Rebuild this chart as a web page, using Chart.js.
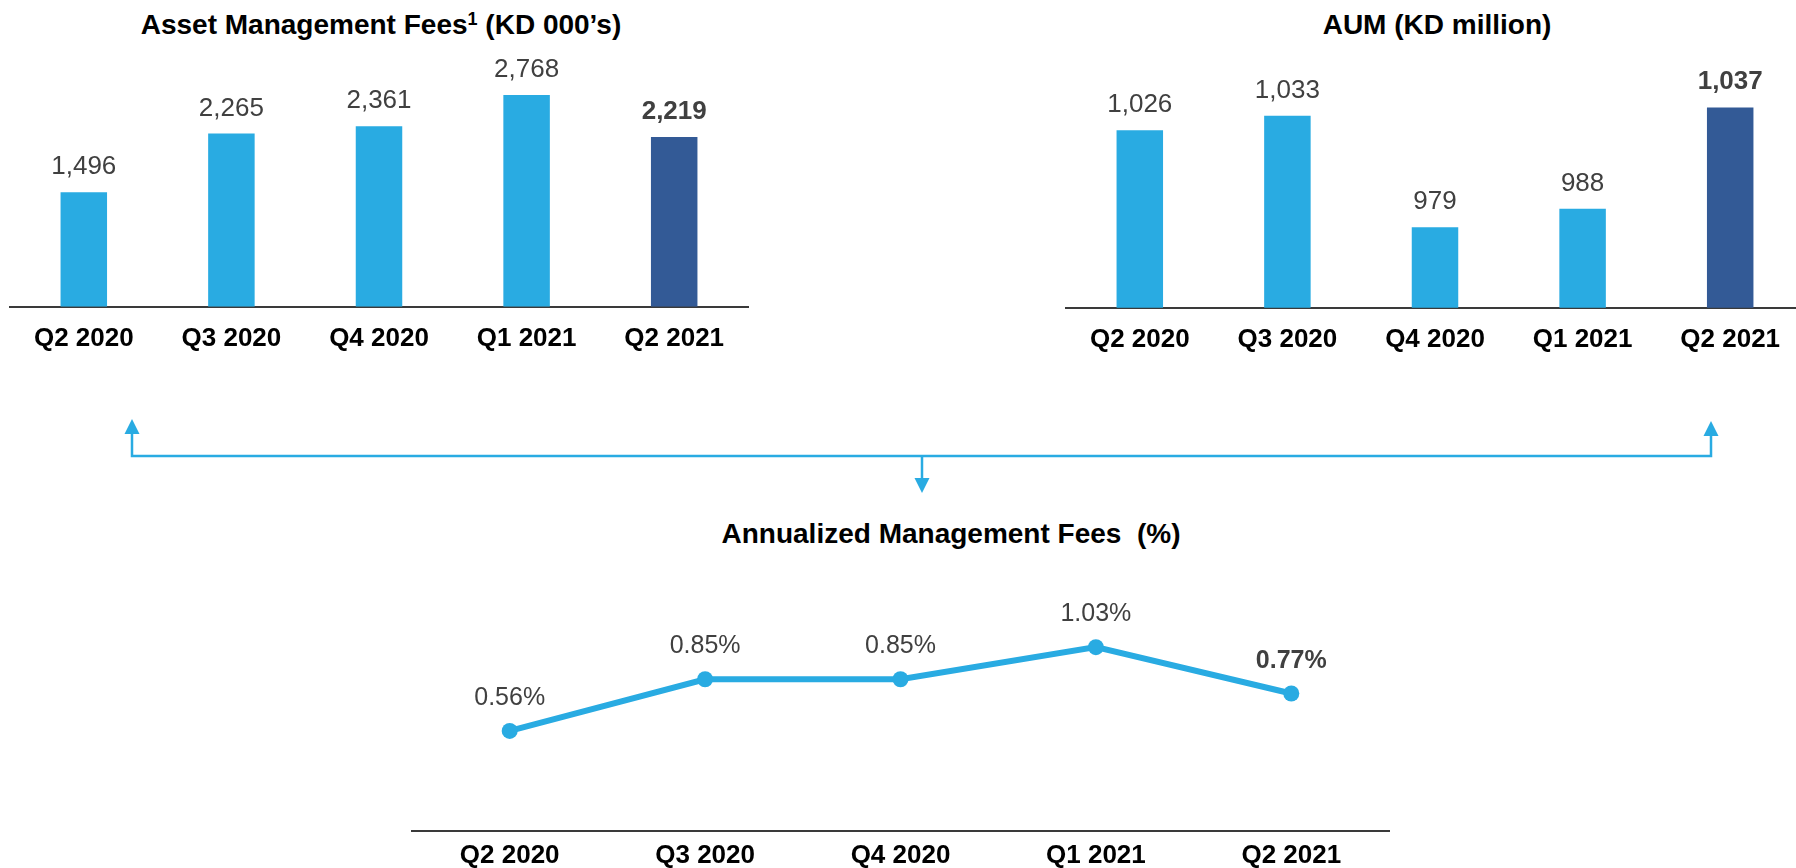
<!DOCTYPE html>
<html>
<head>
<meta charset="utf-8">
<script src="https://cdn.jsdelivr.net/npm/chart.js@4.4.1/dist/chart.umd.min.js"></script>
<style>
    html, body { margin: 0; padding: 0; background: #fff; }
    body { width: 1796px; height: 868px; overflow: hidden; position: relative; font-family: "Liberation Sans", Arial, sans-serif; }
    canvas { position: absolute; }
    .title { position: absolute; width: 700px; text-align: center; font-weight: bold; font-size: 28px; line-height: 28px; color: #000; white-space: nowrap; }
    .title .sup { font-size: 18px; position: relative; top: -9px; }
    svg { position: absolute; left: 0; top: 0; }
</style>
</head>
<body>

<div class="title" style="left:31px; top:11px;">Asset Management Fees<span class="sup">1</span> (KD 000’s)</div>
<div class="title" style="left:1087px; top:11px;">AUM (KD million)</div>
<div class="title" style="left:601px; top:520px;">Annualized Management Fees&nbsp; (%)</div>

<!-- Pfeile zwischen den Grafiken -->
<svg width="1796" height="868">
    <g stroke="#29abe2" stroke-width="2.5" fill="none">
        <polyline points="132,433 132,456 1711,456 1711,435" />
        <line x1="922" y1="456" x2="922" y2="479" />
    </g>
    <g fill="#29abe2">
        <polygon points="132,419 124.5,434 139.5,434" />
        <polygon points="1711,421 1703.5,436 1718.5,436" />
        <polygon points="922,493 914.5,478 929.5,478" />
    </g>
</svg>

<canvas id="feesChart" width="760" height="377" style="left:0; top:0;"></canvas>
<canvas id="aumChart" width="760" height="377" style="left:1056px; top:0;"></canvas>
<canvas id="rateChart" width="1000" height="321" style="left:402px; top:560px;"></canvas>

<script>
// Daten
const quarters = ['Q2 2020', 'Q3 2020', 'Q4 2020', 'Q1 2021', 'Q2 2021'];
const feeValues = [1496, 2265, 2361, 2768, 2219];
const aumValues = [1026, 1033, 979, 988, 1037];
const feeRates = [0.56, 0.85, 0.85, 1.03, 0.77];

// Farben
const lightBlue = '#29abe2';
const darkBlue = '#335a96';
const labelColor = '#404040';
const fontFamily = '"Liberation Sans", Arial, sans-serif';

// Wertebeschriftung über Balken / Punkten
function makeValueLabels(format, size, gap) {
    return {
        id: 'valueLabels',
        afterDatasetsDraw(chart) {
            const ctx = chart.ctx;
            const meta = chart.getDatasetMeta(0);
            const data = chart.data.datasets[0].data;
            ctx.save();
            ctx.textAlign = 'center';
            ctx.textBaseline = 'alphabetic';
            ctx.fillStyle = labelColor;
            meta.data.forEach((el, i) => {
                const last = i === data.length - 1;
                ctx.font = (last ? 'bold ' : '') + size + 'px ' + fontFamily;
                ctx.fillText(format(data[i]), el.x, el.y - gap);
            });
            ctx.restore();
        }
    };
}

function xAxis(padding) {
    return {
        grid: { display: false, drawTicks: false },
        border: { display: true, color: '#3a3a3a', width: 2 },
        ticks: { color: '#000', padding: padding, font: { family: fontFamily, size: 26, weight: 'bold' } }
    };
}

const barColors = quarters.map((q, i) => i === quarters.length - 1 ? darkBlue : lightBlue);
const thousands = v => v.toLocaleString('en-US');

// Asset Management Fees
new Chart(document.getElementById('feesChart'), {
    type: 'bar',
    data: {
        labels: quarters,
        datasets: [{
            data: feeValues,
            backgroundColor: barColors,
            barPercentage: 0.315,
            categoryPercentage: 1
        }]
    },
    options: {
        responsive: false,
        animation: false,
        layout: { padding: { left: 10, right: 12, top: 62, bottom: 7 } },
        plugins: { legend: { display: false }, tooltip: { enabled: false } },
        scales: {
            x: xAxis(16),
            y: { display: false, min: 0, max: 3200 }
        }
    },
    plugins: [makeValueLabels(thousands, 26, 18)]
});

// AUM
new Chart(document.getElementById('aumChart'), {
    type: 'bar',
    data: {
        labels: quarters,
        datasets: [{
            data: aumValues,
            backgroundColor: barColors,
            barPercentage: 0.315,
            categoryPercentage: 1
        }]
    },
    options: {
        responsive: false,
        animation: false,
        layout: { padding: { left: 10, right: 12, top: 60, bottom: 6 } },
        plugins: { legend: { display: false }, tooltip: { enabled: false } },
        scales: {
            x: xAxis(16),
            y: { display: false, min: 940, max: 1060 }
        }
    },
    plugins: [makeValueLabels(thousands, 26, 18)]
});

// Annualisierte Gebühren
new Chart(document.getElementById('rateChart'), {
    type: 'line',
    data: {
        labels: quarters,
        datasets: [{
            data: feeRates,
            borderColor: lightBlue,
            backgroundColor: lightBlue,
            borderWidth: 6,
            pointRadius: 8,
            pointBorderWidth: 0,
            pointBackgroundColor: lightBlue,
            tension: 0
        }]
    },
    options: {
        responsive: false,
        animation: false,
        layout: { padding: { left: 10, right: 13, top: 39, bottom: 1 } },
        plugins: { legend: { display: false }, tooltip: { enabled: false } },
        scales: {
            x: Object.assign(xAxis(9), { offset: true }),
            y: { display: false, min: 0, max: 1.3 }
        }
    },
    plugins: [makeValueLabels(v => v.toFixed(2) + '%', 25, 26)]
});
</script>
</body>
</html>
